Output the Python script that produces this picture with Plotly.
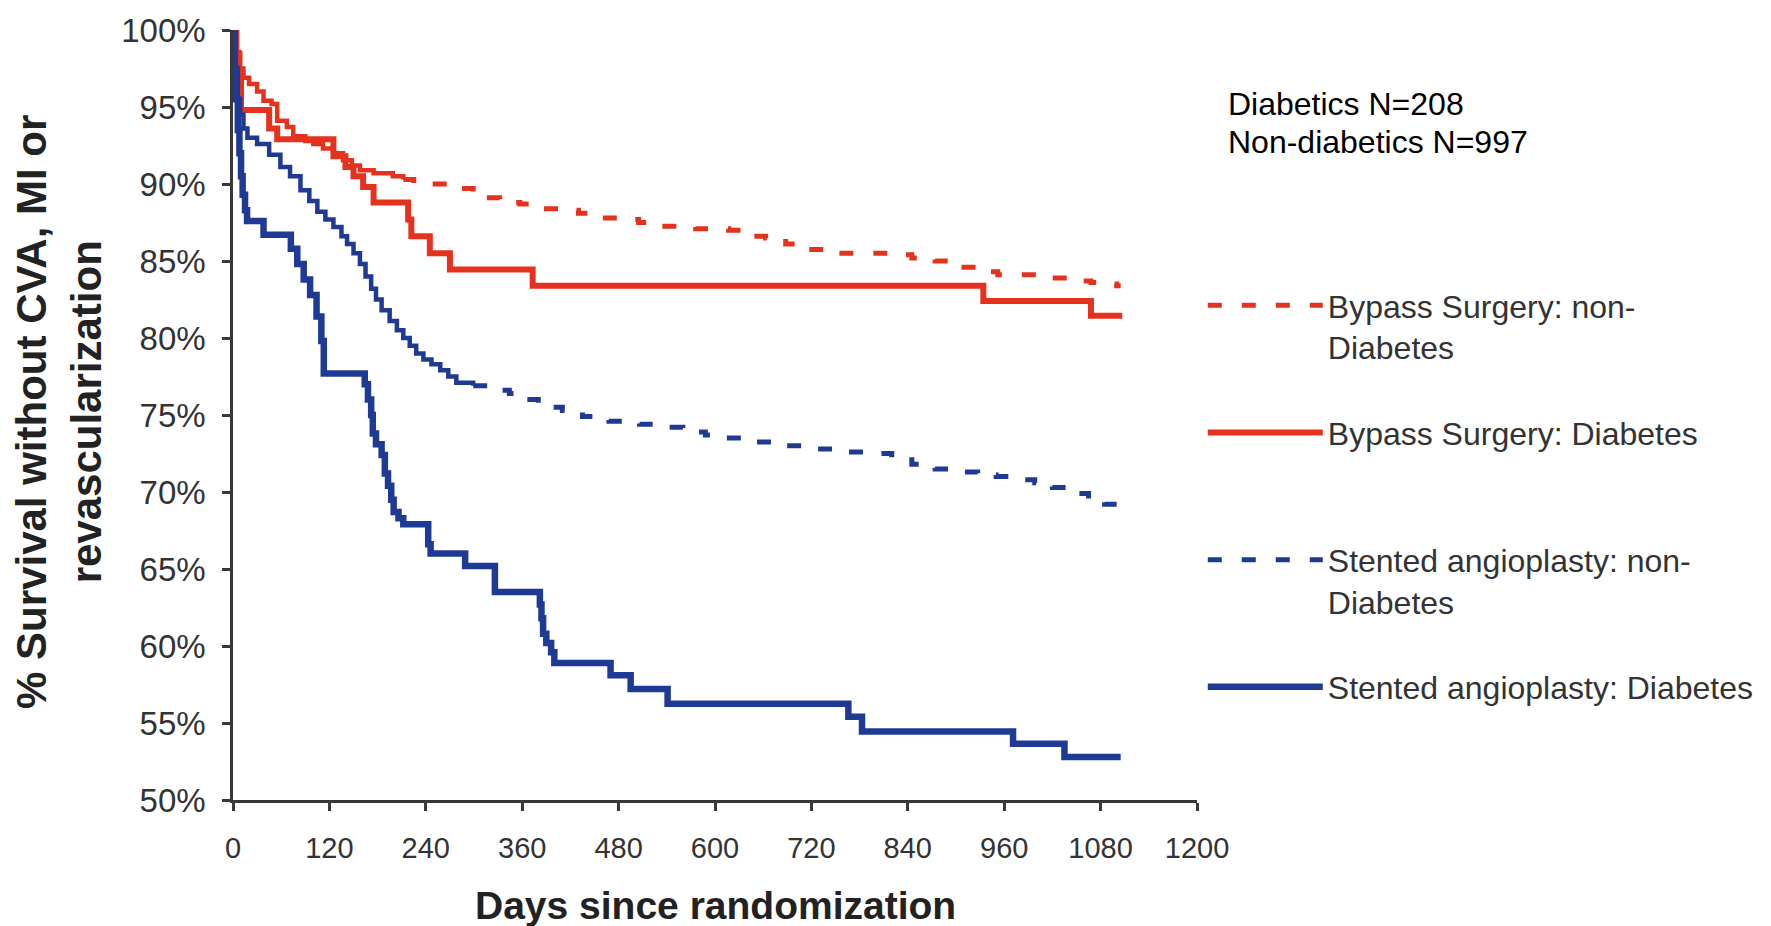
import plotly.graph_objects as go

# ---------------- data ----------------
days_ticks = [0, 120, 240, 360, 480, 600, 720, 840, 960, 1080, 1200]
pct_ticks = [50, 55, 60, 65, 70, 75, 80, 85, 90, 95, 100]

# Bypass Surgery: non-Diabetes
bn_days = [0, 5, 9, 13, 20, 30, 38, 48, 55, 67, 75, 90, 100, 112, 125, 137, 148, 158, 175, 199,
           212, 225, 266, 299, 315, 332, 357, 382, 406, 430, 456, 481, 505, 526, 576, 617, 642,
           663, 688, 708, 741, 816, 845, 874, 890, 910, 927, 952, 1000, 1018, 1050, 1068, 1090,
           1100, 1105]
bn_vals = [100, 98.5, 97.5, 96.9, 96.5, 96.0, 95.4, 95.2, 94.1, 93.7, 93.1, 92.8, 92.6, 92.3,
           92.0, 91.55, 91.2, 90.9, 90.7, 90.5, 90.3, 90.0, 89.7, 89.4, 89.1, 88.8, 88.7, 88.4,
           88.3, 88.1, 87.8, 87.7, 87.5, 87.25, 87.1, 87.0, 86.6, 86.5, 86.1, 85.75, 85.5, 85.4,
           85.2, 85.0, 84.9, 84.6, 84.3, 84.1, 84.0, 83.9, 83.7, 83.6, 83.5, 83.4, 83.4]

# Bypass Surgery: Diabetes
bd_days = [0, 4, 7, 10, 45, 55, 125, 140, 150, 162, 175, 218, 222, 245, 270, 373, 934, 1068, 1107]
bd_vals = [100, 98.5, 97.0, 94.8, 93.6, 92.9, 91.8, 91.1, 90.5, 89.8, 88.8, 87.7, 86.6, 85.5,
           84.45, 83.4, 82.4, 81.45, 81.45]

# Stented angioplasty: non-Diabetes
sn_days = [0, 3, 6, 9, 13, 18, 30, 45, 59, 71, 84, 95, 105, 115, 125, 135, 142, 150, 158, 165,
           172, 178, 185, 195, 204, 212, 220, 228, 237, 247, 258, 268, 278, 299, 332, 344, 360,
           380, 394, 410, 435, 468, 506, 530, 560, 588, 605, 646, 675, 708, 762, 795, 820, 845,
           874, 907, 927, 950, 973, 998, 1020, 1045, 1065, 1085, 1100, 1105]
sn_vals = [100, 97.5, 95.5, 94.5, 93.6, 93.0, 92.6, 91.9, 91.1, 90.5, 89.6, 88.9, 88.2, 87.7,
           87.2, 86.6, 86.1, 85.5, 84.8, 84.0, 83.2, 82.5, 81.8, 81.1, 80.5, 80.0, 79.5, 79.0,
           78.6, 78.3, 77.9, 77.5, 77.1, 76.9, 76.6, 76.4, 76.0, 75.7, 75.5, 75.3, 74.9, 74.6,
           74.4, 74.2, 73.9, 73.7, 73.5, 73.25, 73.0, 72.8, 72.6, 72.5, 72.1, 71.8, 71.5, 71.3,
           71.1, 71.0, 70.8, 70.6, 70.3, 69.9, 69.5, 69.2, 68.8, 68.7]

# Stented angioplasty: Diabetes
sd_days = [0, 2, 4, 6, 8, 10, 12, 15, 17.5, 38, 72, 80, 88, 96, 104, 110, 113, 164, 168, 172,
           174, 178, 185, 189, 193, 197, 200, 206, 212, 243, 246, 289, 326, 382, 384, 386, 390,
           396, 400, 470, 495, 541, 766, 783, 971, 1035, 1105]
sd_vals = [100, 97.5, 95.5, 93.5, 92.0, 90.5, 89.3, 88.3, 87.6, 86.7, 85.8, 84.8, 83.8, 82.8,
           81.4, 79.8, 77.7, 77.0, 76.0, 75.0, 73.8, 73.1, 72.4, 71.2, 70.4, 69.5, 68.7, 68.3,
           67.9, 66.6, 66.0, 65.2, 63.5, 62.7, 61.8, 60.8, 60.2, 59.6, 58.9, 58.1, 57.2, 56.25,
           55.4, 54.45, 53.65, 52.8, 52.8]

names = ["Bypass Surgery: non-<br>Diabetes", "Bypass Surgery: Diabetes<br>&nbsp;",
         "Stented angioplasty: non-<br>Diabetes", "Stented angioplasty: Diabetes<br>&nbsp;"]
# day up to which the dense early part of the non-diabetic curves reads as a solid line
bn_solid_until = 205
sn_solid_until = 280

RED = "#E5321F"
BLUE = "#1F3A94"
AX = "#383838"
FONT = "Liberation Sans, Arial, sans-serif"
DASH = "14px,20px"

fig = go.Figure()


def split(days, vals, cut):
    idx = next(i for i, d in enumerate(days) if d >= cut)
    return (days[:idx + 1], vals[:idx + 1]), (days[idx:], vals[idx:])


# Bypass non-diabetes
(e_x, e_y), (l_x, l_y) = split(bn_days, bn_vals, bn_solid_until)
fig.add_trace(go.Scatter(x=e_x, y=e_y, mode="lines", line=dict(color=RED, width=4.5, shape="hv"),
                         legendgroup="g1", showlegend=False, hoverinfo="skip"))
fig.add_trace(go.Scatter(x=l_x, y=l_y, mode="lines", name=names[0], legendgroup="g1",
                         line=dict(color=RED, width=5, shape="hv", dash=DASH)))
# Bypass diabetes
fig.add_trace(go.Scatter(x=bd_days, y=bd_vals, mode="lines", name=names[1], legendgroup="g2",
                         line=dict(color=RED, width=6, shape="hv")))
# Stented non-diabetes
(e_x, e_y), (l_x, l_y) = split(sn_days, sn_vals, sn_solid_until)
fig.add_trace(go.Scatter(x=e_x, y=e_y, mode="lines", line=dict(color=BLUE, width=4.5, shape="hv"),
                         legendgroup="g3", showlegend=False, hoverinfo="skip"))
fig.add_trace(go.Scatter(x=l_x, y=l_y, mode="lines", name=names[2], legendgroup="g3",
                         line=dict(color=BLUE, width=5, shape="hv", dash=DASH)))
# Stented diabetes
fig.add_trace(go.Scatter(x=sd_days, y=sd_vals, mode="lines", name=names[3], legendgroup="g4",
                         line=dict(color=BLUE, width=6.5, shape="hv")))

fig.update_layout(
    width=1771, height=926,
    margin=dict(l=233, r=571, t=26, b=126),
    paper_bgcolor="white", plot_bgcolor="white",
    font=dict(family=FONT, color=AX),
    showlegend=True,
    legend=dict(x=1.006, y=0.678, xanchor="left", yanchor="top",
                font=dict(family=FONT, size=32, color="#333333"),
                itemwidth=115, tracegroupgap=41, valign="top",
                traceorder="grouped", bgcolor="rgba(0,0,0,0)"),
    xaxis=dict(range=[0, 1200], tickmode="array", tickvals=days_ticks,
               ticktext=[str(d) for d in days_ticks],
               showgrid=False, zeroline=False, showline=True, linecolor=AX, linewidth=2.5,
               ticks="outside", ticklen=8, tickwidth=2.5, tickcolor=AX,
               tickfont=dict(family=FONT, size=29, color="#333333"), ticklabelstandoff=12),
    yaxis=dict(range=[50, 100], tickmode="array", tickvals=pct_ticks,
               ticktext=[f"{p}%" for p in pct_ticks],
               showgrid=False, zeroline=False, showline=True, linecolor=AX, linewidth=2.5,
               ticks="outside", ticklen=8, tickwidth=2.5, tickcolor=AX,
               tickfont=dict(family=FONT, size=33, color="#333333"), ticklabelstandoff=10),
    annotations=[
        dict(text="Days since randomization", xref="paper", yref="paper", x=0.5, y=-0.137,
             xanchor="center", yanchor="middle", showarrow=False,
             font=dict(family=FONT, size=39, color="#222222", weight="bold")),
        dict(text="% Survival without CVA, MI or<br>revascularization", xref="paper",
             yref="paper", x=-0.1805, y=0.504, xanchor="center", yanchor="middle",
             textangle=-90, showarrow=False,
             font=dict(family=FONT, size=42, color="#222222", weight="bold")),
        dict(text="Diabetics N=208", xref="paper", yref="paper", x=1.03, y=(800 - 100) / 774,
             xanchor="left", yanchor="middle", showarrow=False,
             font=dict(family=FONT, size=32, color="black")),
        dict(text="Non-diabetics N=997", xref="paper", yref="paper", x=1.03,
             y=(800 - 139) / 774, xanchor="left", yanchor="middle", showarrow=False,
             font=dict(family=FONT, size=32, color="black")),
    ],
)

fig.write_html("out.html")
